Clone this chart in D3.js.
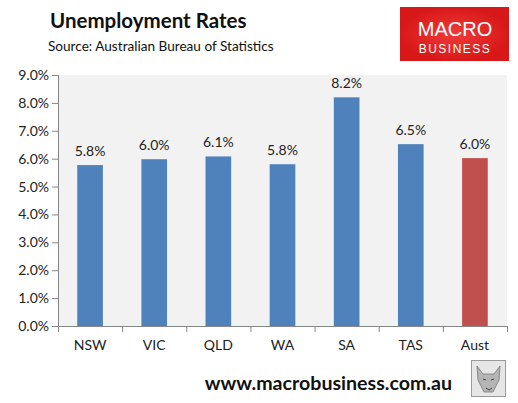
<!DOCTYPE html>
<html>
<head>
<meta charset="utf-8">
<script src="https://cdn.jsdelivr.net/npm/d3@7"></script>
<style>
body { margin: 0; background: #fff; }
svg { display: block; font-family: Lato, "DejaVu Sans", sans-serif; }
</style>
</head>
<body>
<svg id="chart" width="518" height="403"></svg>
<script>
var states = ["NSW", "VIC", "QLD", "WA", "SA", "TAS", "Aust"];
var rates = [5.77, 5.98, 6.08, 5.8, 8.2, 6.52, 6.02];
var yTicks = [0, 1, 2, 3, 4, 5, 6, 7, 8, 9];

var svg = d3.select("#chart");
var margin = {top: 75, right: 11, bottom: 77, left: 58},
    width = 518 - margin.left - margin.right,
    height = 403 - margin.top - margin.bottom;

var x = d3.scaleBand().domain(states).range([0, width]).paddingInner(0.6).paddingOuter(0.3);
var y = d3.scaleLinear().domain([0, 9]).range([height, 0]);

// header
svg.append("text").attr("x", 50).attr("y", 28)
    .style("font-size", "20.5px").style("font-weight", "bold").style("fill", "#111")
    .text("Unemployment Rates");
svg.append("text").attr("x", 48).attr("y", 51)
    .style("font-size", "13.6px").style("fill", "#111")
    .text("Source: Australian Bureau of Statistics");

// logo
var logo = svg.append("g").attr("transform", "translate(400,7)");
var grad = svg.append("defs").append("radialGradient").attr("id", "red");
grad.append("stop").attr("offset", "0%").attr("stop-color", "#f03a3a");
grad.append("stop").attr("offset", "100%").attr("stop-color", "#d81818");
logo.append("rect").attr("width", 109).attr("height", 54).attr("fill", "url(#red)");
logo.append("text").attr("x", 55).attr("y", 29).attr("text-anchor", "middle")
    .style("font-family", "'Liberation Sans', Arial, sans-serif")
    .style("font-size", "20px").style("fill", "#fff").text("MACRO");
logo.append("text").attr("x", 55).attr("y", 46).attr("text-anchor", "middle")
    .style("font-family", "'Liberation Sans', Arial, sans-serif")
    .style("font-size", "12px").style("letter-spacing", "1.5px").style("fill", "#fff").text("BUSINESS");

var g = svg.append("g").attr("transform", "translate(" + margin.left + "," + margin.top + ")");

g.append("rect").attr("width", width).attr("height", height).attr("fill", "#f2f2f2");

g.selectAll(".bar").data(states).enter().append("rect")
    .attr("x", function(d) { return x(d); })
    .attr("y", function(d, i) { return y(rates[i]); })
    .attr("width", x.bandwidth())
    .attr("height", function(d, i) { return height - y(rates[i]); })
    .attr("fill", function(d) { return d === "Aust" ? "#c0504d" : "#4f81bd"; });

g.selectAll(".lbl").data(states).enter().append("text")
    .attr("x", function(d) { return x(d) + x.bandwidth() / 2; })
    .attr("y", function(d, i) { return y(rates[i]) - 9; })
    .attr("text-anchor", "middle")
    .style("font-size", "14px").style("fill", "#222")
    .text(function(d, i) { return rates[i].toFixed(1) + "%"; });

// y axis
var yAxis = g.append("g").call(d3.axisLeft(y).tickValues(yTicks).tickSize(6).tickPadding(3)
    .tickFormat(function(d) { return d.toFixed(1) + "%"; }));
yAxis.select(".domain").attr("stroke", "#868686").attr("d", "M0.5," + height + "V0");
yAxis.selectAll(".tick line").attr("stroke", "#868686");
yAxis.selectAll(".tick text").style("font-size", "14px").style("fill", "#222")
    .style("font-family", "Lato, sans-serif");

// x axis
var xAxis = g.append("g").attr("transform", "translate(0," + height + ")")
    .call(d3.axisBottom(x).tickSize(0).tickPadding(14));
xAxis.select(".domain").attr("stroke", "#868686").attr("d", "M0,0.5H" + width);
xAxis.selectAll(".tick text").style("font-size", "14px").style("fill", "#222")
    .style("font-family", "Lato, sans-serif");

// tick marks sit between categories, not under them
var edges = d3.range(states.length + 1).map(function(i) { return i * width / states.length; });
xAxis.selectAll(".edge").data(edges).enter().append("line")
    .attr("x1", function(d) { return d + 0.5; }).attr("x2", function(d) { return d + 0.5; })
    .attr("y1", 0).attr("y2", 6).attr("stroke", "#868686");

// footer
svg.append("text").attr("x", 452).attr("y", 390).attr("text-anchor", "end")
    .style("font-size", "19.6px").style("font-weight", "bold").style("fill", "#111")
    .text("www.macrobusiness.com.au");

var wolf = svg.append("g").attr("transform", "translate(471,360)");
wolf.append("rect").attr("x", 0.5).attr("y", 0.5).attr("width", 34).attr("height", 36)
    .attr("fill", "#e6e6e6").attr("stroke", "#9a9a9a");
wolf.append("path").attr("d", "M6,6 L12,14 L23,14 L29,6 L28,20 L22,32 L13,32 L7,20 Z")
    .attr("fill", "#b5b5b5").attr("stroke", "#777").attr("stroke-width", 0.8);
wolf.append("path").attr("d", "M12,19 L15,20 M20,20 L23,19 M15,28 L18,30 L21,28")
    .attr("stroke", "#444").attr("stroke-width", 1).attr("fill", "none");
</script>
</body>
</html>
